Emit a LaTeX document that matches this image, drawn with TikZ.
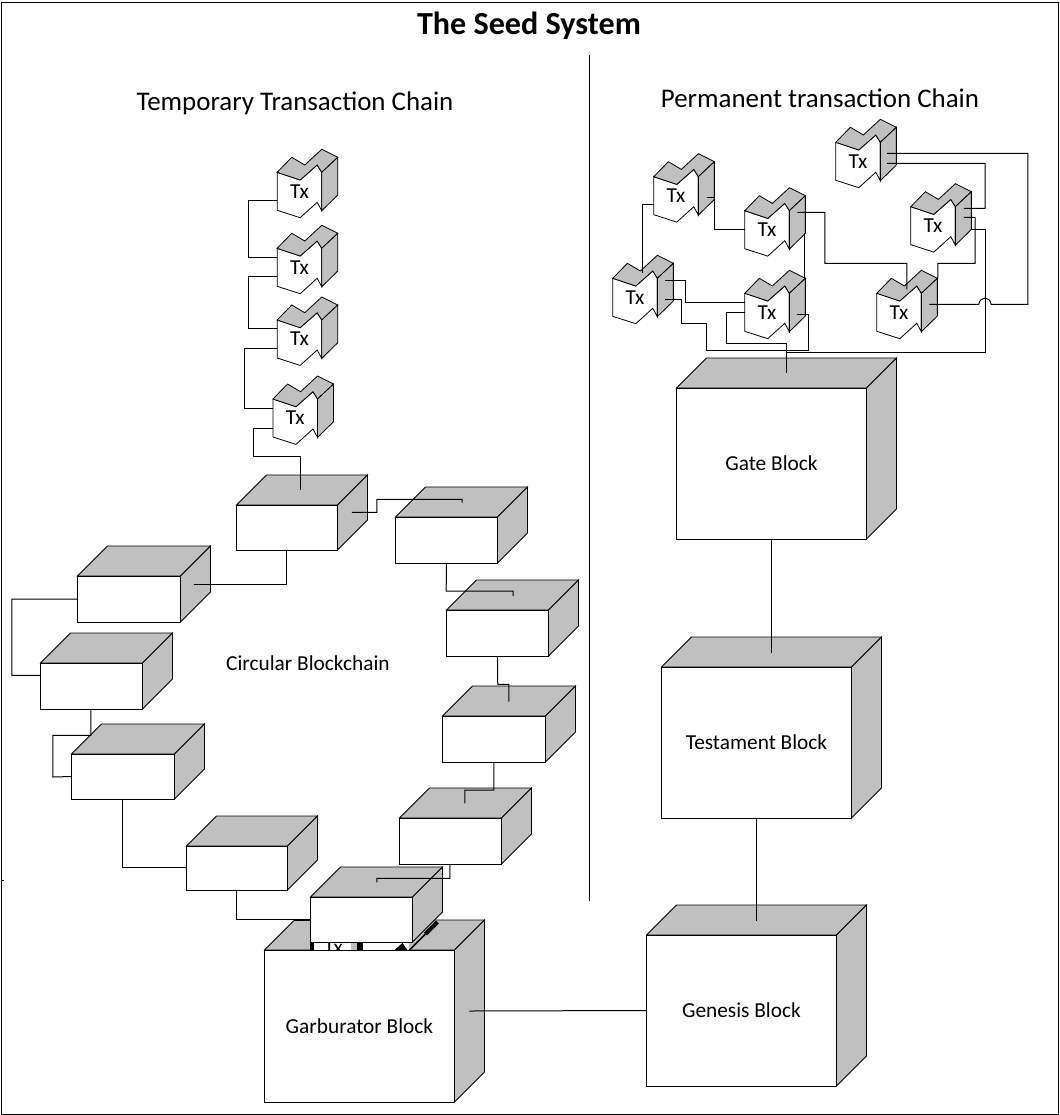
\documentclass[tikz,border=0pt]{standalone}
\usepackage{fontspec}
\setmainfont{Carlito}
\usetikzlibrary{calc}
\definecolor{facegrey}{HTML}{C0C0C0}
\tikzset{
  conn/.style={draw=black,line width=0.75pt},
  edge/.style={draw=black,line width=0.6pt,line join=miter},
  facefront/.style={draw=black,fill=white,line width=0.75pt,inner sep=0pt,outer sep=0pt,font=\fontsize{16}{18}\selectfont},
  txfront/.style={inner sep=0pt,outer sep=0pt,minimum width=33.45pt,minimum height=28.5pt,font=\fontsize{16}{18}\selectfont},
  heading/.style={font=\fontsize{20.2}{24}\selectfont,inner sep=0pt},
}
% name, left, top, right, bottom, label
\newcommand\cubeblock[6]{%
  \path[edge,fill=facegrey] (#2,#3) -- ({#2+30},{#3-30}) -- ({#4+30},{#3-30}) -- (#4,#3) -- cycle;
  \path[edge,fill=facegrey] (#4,#3) -- ({#4+30},{#3-30}) -- ({#4+30},{#5-30}) -- (#4,#5) -- cycle;
  \node[facefront,minimum width={(#4-#2)*0.75pt},minimum height={(#5-#3)*0.75pt}] (#1) at ({(#2+#4)/2},{(#3+#5)/2}) {#6};
}
% name, x, y of the upper left corner of the front
\newcommand\txblock[3]{%
  \begin{scope}[shift={(#2,#3)}]
    \path[edge,fill=white] (0,0) -- (23,7.7) -- (40,-7.3) -- (44.6,0) -- (44.6,38.4) -- (40,30) -- (23,45.4) -- (0,38) -- cycle;
    \path[edge,fill=facegrey] (0,0) -- (14.6,-15) -- (27.6,-7.3) -- (44.6,-23) -- (60.6,-15) -- (44.6,0) -- (40,-7.3) -- (23,7.7) -- cycle;
    \path[edge,fill=facegrey] (44.6,0) -- (60.6,-15) -- (60.6,22.7) -- (44.6,38.4) -- cycle;
  \end{scope}
  \node[txfront] (#1) at ({#2+22.3},{#3+19}) {Tx};
}
\begin{document}
\begin{tikzpicture}[x=0.75pt,y=-0.75pt]
\useasboundingbox (0,0) rectangle (1060,1115);
\path[fill=white] (0,0) rectangle (1060,1115);
\draw[conn] (1.5,2.5) -- (1058.5,2.5) -- (1058.5,1114.5) -- (1.5,1114.5) -- cycle;
\draw[conn] (1.5,880.5) -- (3.5,880.5);

\begin{scope}[xshift=-0.4pt]
\node[font=\bfseries\fontsize{24.1}{28}\selectfont,inner sep=0pt] (title) at (529.5,25.5) {The Seed System};
\node[heading] (headtemp) at (295.5,103.5) {Temporary Transaction Chain};
\node[heading] (headperm) at (820.5,98.5) {Permanent transaction Chain};
\node[font=\fontsize{16}{18}\selectfont,inner sep=0pt] (circ) at (308.5,663) {Circular Blockchain};
\coordinate (divtop) at (590.5,55);
\coordinate (divbot) at (590.5,901);
\draw[conn] (divtop) -- (divbot);

% large blocks
\cubeblock{gate}{677}{388}{867}{539}{Gate Block}
\cubeblock{test}{662}{667}{852}{818}{Testament Block}
\cubeblock{gen}{647}{935}{837}{1086}{Genesis Block}
\cubeblock{garb}{265}{950}{455}{1102}{Garburator Block}

% remnants of a hidden shape under the front block
\fill[white] (311,942) rectangle (410,950.4);
\fill[black] (311,942) rectangle (315,950);
\fill[facegrey] (352,942) rectangle (358,950);
\fill[black] (358,942) rectangle (364,950);
\fill[black] (395,950) -- (403,943) -- (408,950) -- cycle;
\begin{scope}
  \clip (316,942) rectangle (350,950);
  \node[font=\fontsize{16}{18}\selectfont,inner sep=0pt,anchor=north] (hiddentx) at (334,941) {Tx};
\end{scope}
\draw[line width=1.2pt] (410,950) -- (426,934);
\draw[line width=3pt] (426,934) -- (438,922);
\draw[line width=1.2pt] (295,920.5) -- (311,920.5);

% circular chain
\cubeblock{bone}{237}{505}{338}{550}{}
\cubeblock{btwo}{78}{576}{181}{622}{}
\cubeblock{bthree}{41}{663}{143}{709}{}
\cubeblock{bfour}{72}{754}{175}{799}{}
\cubeblock{bfive}{187}{846}{288}{890}{}
\cubeblock{bsix}{311}{897}{413}{942}{}
\cubeblock{bseven}{400}{818}{502}{864}{}
\cubeblock{beight}{443}{716}{546}{762}{}
\cubeblock{bnine}{447}{610}{549}{656}{}
\cubeblock{bten}{396}{517}{498}{563}{}

% transactions
\txblock{tone}{277.7}{172.3}
\txblock{ttwo}{277.7}{248.3}
\txblock{tthree}{277.7}{320}
\txblock{tfour}{273.5}{399}
\txblock{rone}{836.3}{142.3}
\txblock{rtwo}{911.3}{206.7}
\txblock{rthree}{877.3}{293.3}
\txblock{rfour}{745.3}{210.7}
\txblock{rfive}{745.3}{293.3}
\txblock{rsix}{654.3}{176.7}
\txblock{rseven}{613.3}{278.3}

% connectors, temporary chain
\draw[conn] ($(tone.west)+(0,9)$) -- (249.3,200.3) -- (249.3,257.3) -- ($(ttwo.west)+(0,-10)$);
\draw[conn] ($(ttwo.west)+(0,9)$) -- (249.3,276.3) -- (249.3,328) -- ($(tthree.west)+(0,-11)$);
\draw[conn] ($(tthree.west)+(0,9)$) -- (245,348) -- (245,408) -- ($(tfour.west)+(0,-10)$);
\draw[conn] ($(tfour.west)+(0,10)$) -- (254,428) -- (254,456) -- (301,456) -- ($(bone)+(13.5,-37.5)$);
\draw[conn] ($(bone)+(64.8,-15.2)$) -- (377.3,512.3) -- (377.3,499.3) -- (462.7,499.3) -- ($(bten)+(15.7,-37.3)$);
\draw[conn] (bten.south) -- (446.7,591) -- (513.7,591) -- ($(bnine)+(15.7,-37)$);
\draw[conn] (bnine.south) -- (498.3,684.3) -- (509.3,684.3) -- ($(beight)+(14.8,-37.3)$);
\draw[conn] (beight.south) -- (494.3,790) -- (465.3,790) -- ($(bseven)+(14.3,-37.7)$);
\draw[conn] ($(bseven.south)+(-0.7,0)$) -- (450.3,878.3) -- (377.3,878.3) -- ($(bsix)+(15.3,-37.2)$);
\draw[conn] (bone.south) -- (287.5,584) -- ($(btwo)+(65.5,-15)$);
\draw[conn] (btwo.west) -- (12.4,599) -- (12.4,675.3) -- ($(bthree.west)+(0,-10.7)$);
\draw[conn] ($(bthree.south)+(-0.7,0)$) -- (91.3,735.3) -- (53.3,735.3) -- (53.3,777) -- (bfour.west);
\draw[conn] (bfour.south) -- (123.5,867) -- ($(bfive.west)+(0,-1)$);
\draw[conn] (bfive.south) -- (237.5,919.5) -- (bsix.west);

% connectors, permanent chain
\draw[conn] ($(rsix.west)+(0,8.6)$) -- (643.3,204.3) -- ($(rseven)+(7.7,-24)$);
\draw[conn] ($(rsix)+(30.7,2)$) -- (714.7,197.7) -- (714.7,229.7) -- (rfour.west);
\draw[conn] ($(rfour)+(30.4,-17.4)$) -- (825.3,212.3) -- (825.3,263.3) -- (907.3,263.3) -- ($(rthree)+(7.7,-23)$);
\draw[conn] ($(rfour)+(37.4,3.3)$) -- ($(rfive)+(37.4,-34.3)$);
\draw[conn] ($(rfive)+(30.4,2)$) -- (809.3,314.3) -- (809.3,350) -- (707.3,350) -- (707.3,323.3) -- (681.7,323.3) -- (681.7,299.3) -- ($(rseven)+(30.4,2)$);
\draw[conn] ($(rseven)+(30.4,-17)$) -- (686.3,280.3) -- (686.3,302.3) -- ($(rfive.west)+(0,-10)$);
\draw[conn] (rfive.west) -- (726.7,312.3) -- (726.7,343.3) -- (787.3,343.3) -- ($(gate)+(15.3,-90.8)$);
\draw[conn] ($(rthree)+(30.4,-8)$) -- (979.3,304.3) .. controls (980.5,296) and (990.5,296) .. (991.7,304.3) -- (1028.3,304.3) -- (1028.3,153.3) -- ($(rone)+(29.1,-8)$);
\draw[conn] ($(rone)+(29.1,2)$) -- (985.7,163.3) -- (985.7,208.3) -- ($(rtwo)+(30.7,-17.4)$);
\draw[conn] ($(rtwo)+(30.7,-8.4)$) -- (975.7,217.3) -- (975.7,263.3) -- (938.3,263.3) -- ($(rthree)+(38.7,-34)$);
\draw[conn] ($(rtwo)+(38.7,3.6)$) -- (985.7,229.3) -- (985.7,352.3) -- (787.3,352.3) -- ($(gate)+(15.3,-90.8)$);

% connectors, large blocks
\draw[conn] (gate.south) -- ($(test)+(15,-89.5)$);
\draw[conn] (test.south) -- ($(gen)+(15,-89.5)$);
\draw[conn] ($(garb)+(110,-15)$) -- (gen.west);
\end{scope}
\end{tikzpicture}
\end{document}
